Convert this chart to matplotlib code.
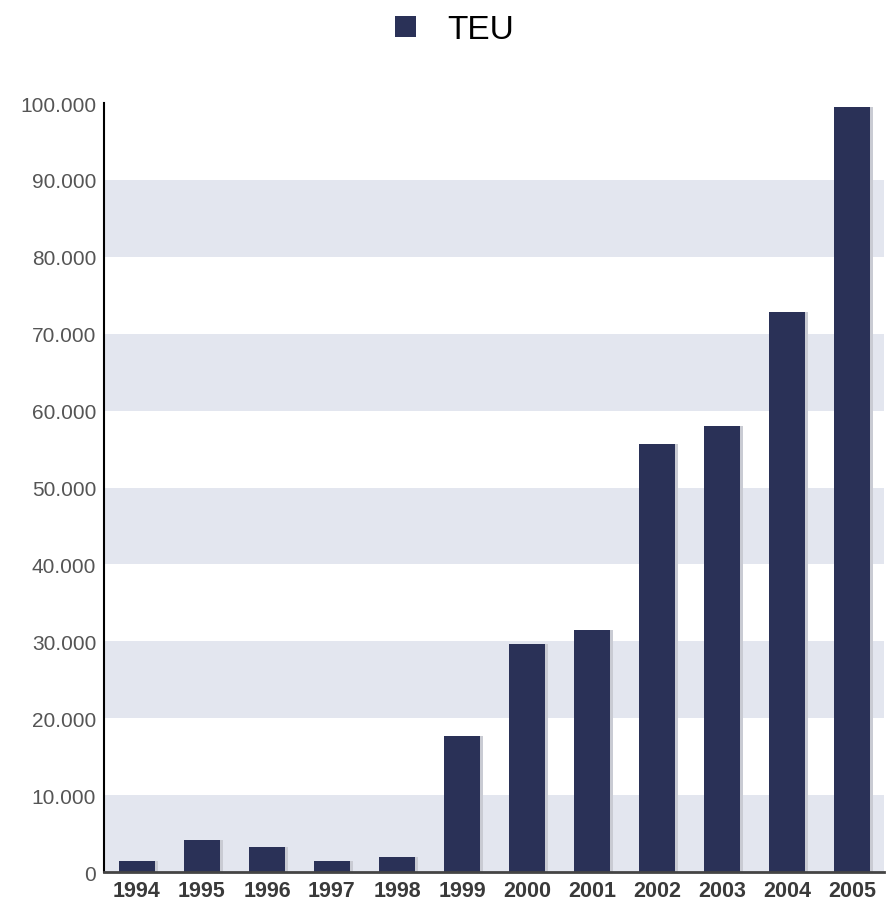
import numpy as np
import matplotlib.pyplot as plt
from matplotlib.ticker import FuncFormatter

years = ['1994', '1995', '1996', '1997', '1998', '1999',
         '2000', '2001', '2002', '2003', '2004', '2005']
teu = [1400, 4200, 3300, 1400, 1900, 17700,
       29600, 31500, 55700, 58000, 72800, 99500]

bar_color = '#2a3157'
band_color = '#e3e6ef'

plt.rcParams['font.family'] = ['Liberation Sans', 'DejaVu Sans']

fig = plt.figure(figsize=(8.9, 9.03), dpi=100)
ax = fig.add_axes([0.1174, 0.0332, 0.8764, 0.8516])

# alternating horizontal bands
for lo in range(0, 100000, 20000):
    ax.axhspan(lo, lo + 10000, color=band_color, lw=0, zorder=0)

x = np.arange(len(years))
# soft shadow to the right of each bar
ax.bar(x + 0.05, teu, width=0.55, color='#c9cbd3', zorder=1)
bars = ax.bar(x, teu, width=0.55, color=bar_color, zorder=2, label='TEU')

ax.set_xlim(-0.5, len(years) - 0.5)
ax.set_ylim(0, 100000)
ax.set_yticks(np.arange(0, 100001, 10000))
ax.yaxis.set_major_formatter(FuncFormatter(lambda v, p: '{:,.0f}'.format(v).replace(',', '.')))
ax.set_xticks(x)
ax.set_xticklabels(years, fontsize=15.5, fontweight='bold', color='#3a3a3a')
ax.tick_params(axis='y', length=0, labelsize=15, labelcolor='#555555', pad=6)
ax.tick_params(axis='x', length=0, pad=6)

for side in ['top', 'right']:
    ax.spines[side].set_visible(False)
ax.spines['left'].set_color('black')
ax.spines['left'].set_linewidth(1.5)
ax.spines['bottom'].set_color('#444444')
ax.spines['bottom'].set_linewidth(2)

fig.legend(handles=[bars], loc='center', bbox_to_anchor=(0.511, 0.966),
           frameon=False, fontsize=24, handlelength=0.62, handleheight=0.62,
           handletextpad=0.95)

fig.savefig('out.png', dpi=100)
